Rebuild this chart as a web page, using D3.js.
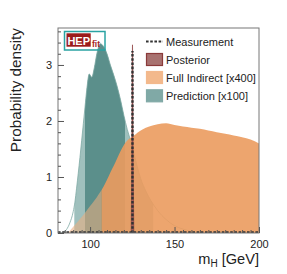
<!DOCTYPE html>
<html>
<head>
<meta charset="utf-8">
<script src="https://cdn.jsdelivr.net/npm/d3@7"></script>
<style>
body { margin: 0; background: #fff; }
text { font-family: "Liberation Sans", Arial, Helvetica, sans-serif; fill: #222; }
</style>
</head>
<body>
<div id="chart"></div>
<script>
// Prediction [x100] (teal)
const predMass = [82, 84, 86, 88, 90, 91, 92, 94, 96, 97, 98, 99.5, 101, 102.5, 104, 106, 108, 110, 112, 114, 116, 118, 120, 122, 124, 126, 128, 130, 133, 136, 140, 145, 150, 155, 160, 166];
const predDens = [0, 0.01, 0.06, 0.18, 0.38, 0.55, 0.8, 1.35, 1.95, 2.25, 2.55, 2.84, 2.78, 2.95, 3.2, 3.38, 3.33, 3.2, 3.0, 2.82, 2.62, 2.38, 2.1, 1.85, 1.65, 1.42, 1.18, 0.97, 0.75, 0.58, 0.4, 0.24, 0.13, 0.07, 0.03, 0];
const predInner = [97.0, 120.7];
const predOuter = [90.65, 137.4];

// Full Indirect [x400] (orange)
const indirMass = [86, 88, 90, 92, 94, 96, 98, 100, 102, 104, 106, 108, 110, 112, 114, 116, 118, 120, 122, 124, 126, 128, 131, 135, 140, 145, 150, 155, 160, 165, 170, 175, 180, 185, 190, 195, 200];
const indirDens = [0, 0.04, 0.11, 0.18, 0.25, 0.32, 0.4, 0.48, 0.56, 0.64, 0.73, 0.83, 0.95, 1.08, 1.2, 1.33, 1.46, 1.57, 1.65, 1.7, 1.74, 1.79, 1.85, 1.9, 1.94, 1.96, 1.93, 1.9, 1.88, 1.86, 1.83, 1.8, 1.77, 1.74, 1.71, 1.67, 1.6];
const indirInner = [106.75, 200];

// Posterior
const postMass = [124.3, 124.7, 124.9, 125.1, 125.3, 125.5, 125.9];
const postDens = [0, 1.2, 3.0, 3.36, 3.0, 1.2, 0];

// Measurement
const measMass = 125.09;
const measPeak = 3.25;

const xTicks = [100, 150, 200];
const yTicks = [0, 1, 2, 3];
const legendLabels = ['Measurement', 'Posterior', 'Full Indirect [x400]', 'Prediction [x100]'];

const width = 287, height = 274;
const svg = d3.select('#chart').append('svg')
    .attr('width', width)
    .attr('height', height);

const x = d3.scaleLinear().domain([81, 200]).range([58, 259]);
const y = d3.scaleLinear().domain([0, 3.66]).range([233, 28]);

const defs = svg.append('defs');
function addClip(id, range) {
    defs.append('clipPath').attr('id', id)
        .append('rect')
        .attr('x', x(range[0])).attr('y', y(3.66))
        .attr('width', x(range[1]) - x(range[0]))
        .attr('height', y(0) - y(3.66));
}
addClip('clip-plot', [81, 200]);
addClip('clip-pred-outer', predOuter);
addClip('clip-pred-inner', predInner);
addClip('clip-indir-outer', [81, indirInner[0]]);
addClip('clip-indir-inner', indirInner);

const area = d3.area()
    .x(d => x(d[0]))
    .y0(y(0))
    .y1(d => y(d[1]))
    .curve(d3.curveMonotoneX);
const line = d3.line()
    .x(d => x(d[0]))
    .y(d => y(d[1]))
    .curve(d3.curveMonotoneX);

const predData = predMass.map((m, i) => [m, predDens[i]]);
const indirData = indirMass.map((m, i) => [m, indirDens[i]]);
const postData = postMass.map((m, i) => [m, postDens[i]]);

const plot = svg.append('g').attr('clip-path', 'url(#clip-plot)');

// prediction bands
plot.append('path').datum(predData)
    .attr('d', area).attr('fill', '#9fc0bd')
    .attr('clip-path', 'url(#clip-pred-outer)');
plot.append('path').datum(predData)
    .attr('d', area).attr('fill', '#5b8f8b')
    .attr('clip-path', 'url(#clip-pred-inner)');
plot.append('path').datum(predData)
    .attr('d', line).attr('fill', 'none')
    .attr('stroke', '#7fa9a5').attr('stroke-width', 0.8);

// full indirect
plot.append('path').datum(indirData)
    .attr('d', area).attr('fill', 'rgb(234,174,127)').attr('fill-opacity', 0.58)
    .attr('clip-path', 'url(#clip-indir-outer)');
plot.append('path').datum(indirData)
    .attr('d', area).attr('fill', 'rgb(235,155,94)').attr('fill-opacity', 0.9)
    .attr('clip-path', 'url(#clip-indir-inner)');

// posterior
plot.append('path').datum(postData)
    .attr('d', d3.line().x(d => x(d[0])).y(d => y(d[1])))
    .attr('fill', '#a0605e').attr('stroke', '#8b3a3a').attr('stroke-width', 0.6);

// measurement (dashed)
const dash = { stroke: '#333', width: 2.4, array: '2.6,1.6' };
plot.append('line')
    .attr('x1', x(81)).attr('x2', x(200))
    .attr('y1', y(0) - 0.5).attr('y2', y(0) - 0.5)
    .attr('stroke', dash.stroke).attr('stroke-width', dash.width)
    .attr('stroke-dasharray', dash.array);
plot.append('line')
    .attr('x1', x(measMass)).attr('x2', x(measMass))
    .attr('y1', y(0)).attr('y2', y(measPeak))
    .attr('stroke', dash.stroke).attr('stroke-width', dash.width)
    .attr('stroke-dasharray', dash.array);

// frame
svg.append('rect')
    .attr('x', x(81)).attr('y', y(3.66))
    .attr('width', x(200) - x(81)).attr('height', y(0) - y(3.66))
    .attr('fill', 'none').attr('stroke', '#777').attr('stroke-width', 1);

// axes
const yMinor = d3.range(0, 3.65, 0.2).filter(v => Math.abs(v - Math.round(v)) > 1e-6);
const xMinor = d3.range(85, 200, 5).filter(v => v % 50 !== 0);

svg.append('g').attr('transform', `translate(${x(81)},0)`)
    .call(d3.axisLeft(y).tickValues(yTicks).tickSize(-6).tickPadding(6).tickFormat(d3.format('d')));
svg.append('g').attr('transform', `translate(${x(81)},0)`)
    .call(d3.axisLeft(y).tickValues(yMinor).tickSize(-3).tickFormat(''));
svg.append('g').attr('transform', `translate(0,${y(0)})`)
    .call(d3.axisBottom(x).tickValues(xTicks).tickSize(-6).tickPadding(7).tickFormat(d3.format('d')));
svg.append('g').attr('transform', `translate(0,${y(0)})`)
    .call(d3.axisBottom(x).tickValues(xMinor).tickSize(-3).tickFormat(''));
svg.selectAll('.domain').remove();
svg.selectAll('.tick line').attr('stroke', '#555');
svg.selectAll('.tick text').attr('font-size', 11).attr('fill', '#222')
    .style('font-family', '"Liberation Sans", Arial, sans-serif');

// axis titles
svg.append('text')
    .attr('transform', 'translate(21,28) rotate(-90)')
    .attr('text-anchor', 'end')
    .attr('font-size', 15.3)
    .text('Probability density');

const xTitle = svg.append('text')
    .attr('x', 259).attr('y', 263.5)
    .attr('text-anchor', 'end')
    .attr('font-size', 14.6);
xTitle.append('tspan').text('m');
xTitle.append('tspan').attr('font-size', 10).attr('dy', 3).text('H');
xTitle.append('tspan').attr('dy', -3).text(' [GeV]');

// legend
const legend = svg.append('g');
const rowY = [41.5, 59.5, 77.5, 95.8];
legend.append('line')
    .attr('x1', 146).attr('x2', 163)
    .attr('y1', rowY[0]).attr('y2', rowY[0])
    .attr('stroke', dash.stroke).attr('stroke-width', 2.2)
    .attr('stroke-dasharray', dash.array);
const boxFill = [null, '#a87270', '#f3b98c', '#80a9a6'];
const boxStroke = [null, '#8b3a3a', '#f3b98c', '#80a9a6'];
for (let i = 1; i < 4; i++) {
    legend.append('rect')
        .attr('x', 146.5).attr('y', rowY[i] - 6)
        .attr('width', 16).attr('height', 12)
        .attr('fill', boxFill[i]).attr('stroke', boxStroke[i]).attr('stroke-width', 1.2);
}
legendLabels.forEach((t, i) => {
    legend.append('text')
        .attr('x', 166).attr('y', rowY[i] + 4)
        .attr('font-size', 11)
        .text(t);
});

// HEPfit logo
const logo = svg.append('g');
logo.append('rect')
    .attr('x', 64.5).attr('y', 31.5).attr('width', 40.5).attr('height', 18.5)
    .attr('fill', 'none').attr('stroke', '#2aa3a3').attr('stroke-width', 1.5);
logo.append('rect')
    .attr('x', 66.5).attr('y', 33.3).attr('width', 24.2).attr('height', 13.4)
    .attr('fill', '#9b1b1b');
logo.append('text')
    .attr('x', 67.4).attr('y', 44.6)
    .attr('font-size', 11).attr('font-weight', 'bold')
    .style('fill', '#fff').text('HEP');
logo.append('text')
    .attr('x', 92).attr('y', 46.5)
    .attr('font-size', 8.5).attr('font-weight', 'bold')
    .style('fill', '#a52525').text('fit');
</script>
</body>
</html>
